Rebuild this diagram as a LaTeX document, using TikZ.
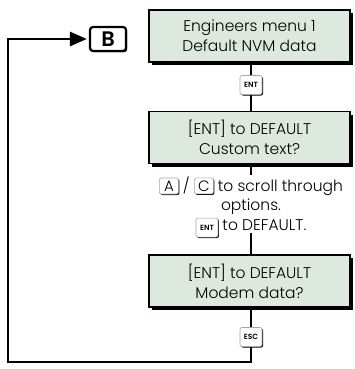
\documentclass[tikz,border=0pt]{standalone}
\usepackage{fontspec}
\setmainfont{Poppins}[UprightFont=* Light, BoldFont=* SemiBold]
\usetikzlibrary{arrows.meta,shadows}
\definecolor{boxfill}{RGB}{221,233,222}
\newcommand{\kbig}[1]{\tikz[baseline=(kk.base)]\node[bigkey](kk){#1};}
\newcommand{\ksmall}[1]{\tikz[baseline=(kk.base)]\node[keycap](kk){#1};}
\begin{document}
\begin{tikzpicture}[x=1pt,y=-1pt,
  menubox/.style={draw=black, line width=1.3pt, fill=boxfill,
    minimum width=201pt, minimum height=52pt, align=center, inner sep=0pt,
    font=\fontsize{15.5}{20}\selectfont,
    drop shadow={shadow xshift=3pt, shadow yshift=-3pt, fill=black, opacity=1}},
  keycap/.style={draw=black!35, fill=white, rounded corners=2pt, line width=0.6pt,
    minimum width=22pt, minimum height=19pt, inner sep=0pt,
    font=\fontsize{7.5}{7.5}\selectfont\bfseries,
    drop shadow={shadow xshift=1pt, shadow yshift=-1pt, fill=black, opacity=1}},
  bigkey/.style={draw=black!35, fill=white, rounded corners=2pt, line width=0.6pt,
    minimum width=19pt, minimum height=16pt, inner sep=0pt,
    font=\fontsize{15}{15}\selectfont,
    drop shadow={shadow xshift=1pt, shadow yshift=-1pt, fill=black, opacity=1}},
  bkey/.style={draw=black, fill=white, rounded corners=3pt, line width=2.2pt,
    minimum width=36pt, minimum height=24pt, inner sep=0pt,
    font=\fontsize{21}{21}\selectfont\bfseries,
    drop shadow={shadow xshift=1.2pt, shadow yshift=-1.2pt, fill=black, opacity=1}},
  conn/.style={line width=2.8pt},
  note/.style={align=center, inner sep=0pt, font=\fontsize{15.5}{19.5}\selectfont}
]
\useasboundingbox[fill=white] (0,0) rectangle (354,369);

\node[menubox] (m1) at (249.5,36) {Engineers menu 1\\Default NVM data};
\node[keycap] (k1) at (251,85) {ENT};
\node[menubox] (m2) at (249.5,137.5) {[ENT] to DEFAULT\\Custom text?};
\node[note] (t) at (251,207) {\kbig{A} / \kbig{C} to scroll through\\options.\\\ksmall{ENT} to DEFAULT.};
\node[menubox] (m3) at (249.5,281) {[ENT] to DEFAULT\\Modem data?};
\node[keycap] (k2) at (251,337) {ESC};
\node[bkey] (b) at (108,39) {B};
\coordinate (lc) at (8,362);

\draw[conn] (k1.north |- m1.south) -- (k1.north);
\draw[conn] (k1.south) -- (k1.south |- m2.north);
\draw[conn] (k1 |- m2.south) -- (251,175);
\draw[conn] (251,233) -- (k1 |- m3.north);
\draw[conn] (k2.north |- m3.south) -- (k2.north);
\draw[conn, -{Triangle[length=17pt,width=14pt]}, shorten >=2pt] (k2.south) |- (lc) |- (b.west);
\end{tikzpicture}
\end{document}
